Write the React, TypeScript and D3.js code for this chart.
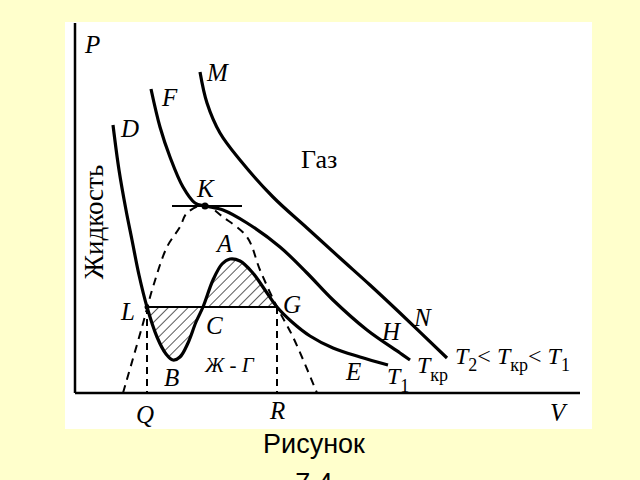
import React from "react";
import * as d3 from "d3";

// Isotherms, values in (V, P) units
const isoLowV = [0.76, 0.88, 1.02, 1.14, 1.28, 1.44, 1.64, 1.82, 1.96, 2.1, 2.26, 2.42, 2.56, 2.76, 2.94, 3.1, 3.3, 3.54, 3.8, 4.04, 4.34, 4.7, 5.16, 5.7, 6.26];
const isoLowP = [5.36, 4.46, 3.66, 3.06, 2.36, 1.72, 1.12, 0.78, 0.66, 0.72, 1.0, 1.42, 1.72, 2.26, 2.58, 2.68, 2.64, 2.42, 2.06, 1.72, 1.42, 1.14, 0.9, 0.72, 0.56];
const isoCritV = [1.52, 1.7, 1.9, 2.16, 2.4, 2.6, 2.96, 3.44, 4.1, 4.64, 5.16, 5.84, 6.5, 6.7];
const isoCritP = [6.08, 5.32, 4.72, 4.12, 3.8, 3.74, 3.66, 3.4, 2.92, 2.4, 1.86, 1.26, 0.8, 0.66];
const isoHighV = [2.5, 2.64, 2.9, 3.3, 3.96, 4.64, 5.3, 5.9, 6.5, 7.44];
const isoHighP = [6.42, 5.8, 5.2, 4.66, 3.92, 3.3, 2.7, 2.16, 1.6, 0.7];
// Binodal (dashed bell)
const binodalV = [0.96, 1.34, 1.56, 1.84, 2.1, 2.24, 2.6, 2.96, 3.44, 3.7, 4.04, 4.36, 4.84];
const binodalP = [0, 1.32, 2.12, 2.92, 3.32, 3.6, 3.76, 3.52, 3.12, 2.46, 1.72, 1.12, 0];
// Key points
const pointL = { v: 1.44, p: 1.72 };
const pointG = { v: 4.04, p: 1.72 };
const pointK = { v: 2.6, p: 3.74 };
const tangentK = [1.94, 3.34];

const W = 640, H = 480;
const x = d3.scaleLinear().domain([0, 10.1]).range([75, 580]);
const y = d3.scaleLinear().domain([0, 7.4]).range([393, 23]);

const zip = (vs: number[], ps: number[]) => vs.map((v, i) => [v, ps[i]] as [number, number]);

export default function App() {
  const line = d3.line<[number, number]>().x(d => x(d[0])).y(d => y(d[1])).curve(d3.curveCatmullRom.alpha(0.5));
  const low = zip(isoLowV, isoLowP);
  const crit = zip(isoCritV, isoCritP);
  const high = zip(isoHighV, isoHighP);
  const bin = zip(binodalV, binodalP);
  const hatchPts = low.filter(d => d[0] >= pointL.v && d[0] <= pointG.v);
  const hatchPath = line(hatchPts) + "Z";

  const serif = "'Liberation Serif', 'DejaVu Serif', serif";
  const it = { fontFamily: serif, fontStyle: "italic", fontSize: 25 } as const;
  const T = (xx: number, yy: number, sub: string) => (
    <text x={xx} y={yy} style={{ ...it, fontSize: 24 }}>
      T<tspan dy={8} style={{ fontStyle: "normal", fontSize: 18 }}>{sub}</tspan>
    </text>
  );

  return (
    <svg width={W} height={H} style={{ position: "absolute", left: 0, top: 0, display: "block" }}>
      <defs>
        <pattern id="hatch" patternUnits="userSpaceOnUse" width={7} height={7} patternTransform="rotate(45)">
          <line x1={0} y1={0} x2={0} y2={7} stroke="#000" strokeWidth={1.3} />
        </pattern>
      </defs>
      <rect x={0} y={0} width={W} height={H} fill="#FFFFCC" />
      <rect x={65} y={22} width={527} height={407} fill="#fff" />

      {/* axes */}
      <line x1={x(0)} y1={23} x2={x(0)} y2={y(0)} stroke="#000" strokeWidth={2.5} />
      <line x1={x(0)} y1={y(0)} x2={580} y2={y(0)} stroke="#000" strokeWidth={2.5} />

      {/* hatched area */}
      <path d={hatchPath} fill="url(#hatch)" stroke="none" />

      {/* binodal */}
      <path d={line(bin) || ""} fill="none" stroke="#000" strokeWidth={2} strokeDasharray="8,6" />
      {/* verticals */}
      <line x1={x(pointL.v)} y1={y(pointL.p)} x2={x(pointL.v)} y2={y(0)} stroke="#000" strokeWidth={2} strokeDasharray="7,5" />
      <line x1={x(pointG.v)} y1={y(pointG.p)} x2={x(pointG.v)} y2={y(0)} stroke="#000" strokeWidth={2} strokeDasharray="7,5" />
      {/* LG */}
      <line x1={x(pointL.v)} y1={y(pointL.p)} x2={x(pointG.v)} y2={y(pointG.p)} stroke="#000" strokeWidth={2} />
      {/* tangent at K */}
      <line x1={x(tangentK[0])} y1={y(pointK.p)} x2={x(tangentK[1])} y2={y(pointK.p)} stroke="#000" strokeWidth={2} />

      {/* isotherms */}
      <path d={line(low) || ""} fill="none" stroke="#000" strokeWidth={3.2} />
      <path d={line(crit) || ""} fill="none" stroke="#000" strokeWidth={3.2} />
      <path d={line(high) || ""} fill="none" stroke="#000" strokeWidth={3.2} />
      <circle cx={x(pointK.v)} cy={y(pointK.p)} r={3.5} fill="#000" />
      <circle cx={x(pointL.v)} cy={y(pointL.p)} r={2.5} fill="#000" />

      {/* labels */}
      <text x={85} y={53} style={it}>P</text>
      <text x={207} y={81} style={it}>M</text>
      <text x={162} y={106} style={it}>F</text>
      <text x={121} y={137} style={it}>D</text>
      <text x={301} y={168} style={{ fontFamily: serif, fontSize: 26 }}>Газ</text>
      <text x={197} y={197} style={it}>K</text>
      <text x={217} y={252} style={it}>A</text>
      <text x={121} y={320} style={it}>L</text>
      <text x={206} y={334} style={it}>C</text>
      <text x={283} y={313} style={it}>G</text>
      <text x={164} y={386} style={it}>B</text>
      <text x={205} y={372} style={{ ...it, fontSize: 21 }}>Ж - Г</text>
      <text x={346} y={380} style={it}>E</text>
      <text x={382} y={340} style={it}>H</text>
      <text x={414} y={326} style={it}>N</text>
      {T(387, 384, "1")}
      {T(417, 373, "кр")}
      <text x={455} y={364} style={{ ...it, fontSize: 24 }}>
        T<tspan dy={7} style={{ fontStyle: "normal", fontSize: 18 }}>2</tspan>
        <tspan dy={-7} style={{ fontStyle: "normal" }}>&lt; </tspan>
        <tspan>T</tspan>
        <tspan dy={7} style={{ fontStyle: "normal", fontSize: 18 }}>кр</tspan>
        <tspan dy={-7} style={{ fontStyle: "normal" }}>&lt; </tspan>
        <tspan>T</tspan>
        <tspan dy={7} style={{ fontStyle: "normal", fontSize: 18 }}>1</tspan>
      </text>
      <text x={136} y={423} style={it}>Q</text>
      <text x={270} y={419} style={it}>R</text>
      <text x={550} y={421} style={it}>V</text>
      <text transform="translate(103,222) rotate(-90)" textAnchor="middle" style={{ fontFamily: serif, fontSize: 27 }}>Жидкость</text>

      <text x={314} y={453} textAnchor="middle" style={{ fontFamily: "'Liberation Sans', Arial, sans-serif", fontSize: 27 }}>Рисунок</text>
      <text x={314} y={492} textAnchor="middle" style={{ fontFamily: "'Liberation Sans', Arial, sans-serif", fontSize: 27 }}>7.4</text>
    </svg>
  );
}
